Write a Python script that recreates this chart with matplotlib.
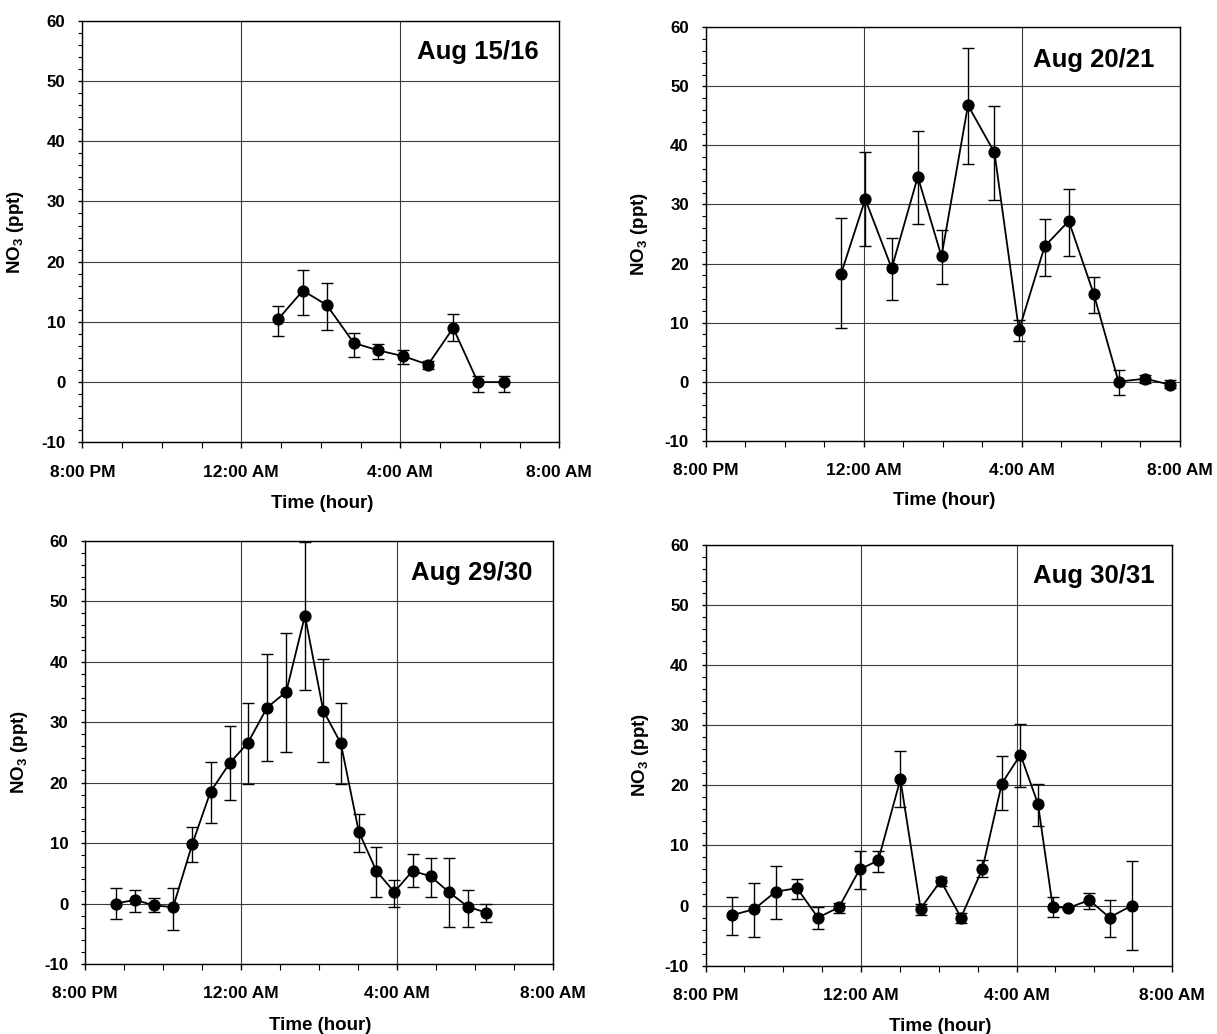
import matplotlib
matplotlib.use("Agg")
import matplotlib.pyplot as plt
from matplotlib.ticker import MultipleLocator, FixedLocator
import numpy as np

plt.rcParams['font.family'] = ['Liberation Sans', 'DejaVu Sans']
plt.rcParams['font.weight'] = 'bold'
plt.rcParams['axes.unicode_minus'] = False
plt.rcParams['mathtext.fontset'] = 'custom'
plt.rcParams['mathtext.rm'] = 'Liberation Sans:bold'
plt.rcParams['mathtext.bf'] = 'Liberation Sans:bold'
plt.rcParams['mathtext.it'] = 'Liberation Sans:bold:italic'
plt.rcParams['mathtext.default'] = 'bf'

# ---- data (time in hours, 24 = 12:00 AM) ----
titles = ["Aug 15/16", "Aug 20/21", "Aug 29/30", "Aug 30/31"]

t1 = [24.92, 25.55, 26.15, 26.83, 27.43, 28.08, 28.70, 29.33, 29.95, 30.60]
v1 = [10.4, 15.2, 12.8, 6.5, 5.3, 4.3, 2.9, 9.0, 0.0, 0.0]
hi1 = [12.7, 18.7, 16.5, 8.2, 6.4, 5.4, 3.5, 11.3, 1.0, 1.0]
lo1 = [7.6, 11.2, 8.6, 4.2, 3.9, 3.0, 2.1, 6.8, -1.6, -1.6]

t2 = [23.43, 24.04, 24.71, 25.37, 25.97, 26.64, 27.31, 27.93, 28.58, 29.19,
      29.82, 30.45, 31.12, 31.75]
v2 = [18.3, 30.9, 19.2, 34.7, 21.2, 46.8, 38.8, 8.7, 22.9, 27.2,
      14.9, 0.0, 0.5, -0.5]
hi2 = [27.7, 38.8, 24.4, 42.5, 25.7, 56.5, 46.7, 10.4, 27.6, 32.6,
       17.8, 1.9, 1.1, 0.3]
lo2 = [9.0, 23.0, 13.8, 26.7, 16.5, 36.9, 30.8, 6.8, 17.9, 21.3,
       11.6, -2.3, -0.2, -1.1]

t3 = [20.79, 21.28, 21.77, 22.26, 22.75, 23.22, 23.71, 24.18, 24.67, 25.16,
      25.64, 26.11, 26.56, 27.02, 27.47, 27.93, 28.40, 28.86, 29.33, 29.81, 30.28]
v3 = [0.0, 0.6, -0.3, -0.6, 9.8, 18.5, 23.2, 26.6, 32.4, 35.0,
      47.6, 31.9, 26.5, 11.9, 5.4, 1.9, 5.4, 4.5, 1.9, -0.5, -1.5]
hi3 = [2.5, 2.3, 0.9, 2.5, 12.7, 23.4, 29.4, 33.2, 41.3, 44.7,
       59.7, 40.4, 33.1, 14.8, 9.4, 3.9, 8.2, 7.5, 7.5, 2.3, 0.0]
lo3 = [-2.6, -1.4, -1.4, -4.3, 6.9, 13.3, 17.2, 19.8, 23.6, 25.1,
       35.3, 23.4, 19.8, 8.5, 1.0, -0.6, 2.8, 1.0, -3.9, -3.9, -3.0]

t4 = [20.68, 21.25, 21.80, 22.35, 22.89, 23.43, 23.96, 24.44, 25.01, 25.53,
      26.05, 26.57, 27.12, 27.62, 28.10, 28.55, 28.93, 29.33, 29.87, 30.39, 30.96]
v4 = [-1.6, -0.6, 2.3, 2.9, -2.0, -0.3, 6.0, 7.5, 21.0, -0.5,
      4.1, -2.0, 6.1, 20.3, 25.1, 16.9, -0.2, -0.4, 0.9, -2.0, 0.0]
hi4 = [1.4, 3.8, 6.6, 4.4, -0.2, 0.4, 9.0, 9.1, 25.7, 0.3,
       4.8, -1.3, 7.5, 24.8, 30.2, 20.3, 1.5, -0.2, 2.1, 1.0, 7.4]
lo4 = [-4.9, -5.3, -2.2, 1.1, -3.9, -1.3, 2.8, 5.5, 16.4, -1.5,
       3.3, -2.9, 4.7, 15.9, 19.8, 13.2, -1.9, -0.6, -0.6, -5.2, -7.4]

xticks = [20, 24, 28, 32]
xticklabels = ["8:00 PM", "12:00 AM", "4:00 AM", "8:00 AM"]
yticks = [-10, 0, 10, 20, 30, 40, 50, 60]

series = [(t1, v1, hi1, lo1), (t2, v2, hi2, lo2), (t3, v3, hi3, lo3), (t4, v4, hi4, lo4)]

# axes rectangles in figure fraction
rects = [
    [0.0676, 0.5722, 0.3920, 0.4077],
    [0.5798, 0.5738, 0.3896, 0.3998],
    [0.0698, 0.0677, 0.3846, 0.4094],
    [0.5798, 0.0661, 0.3833, 0.4069],
]
title_pos = [(0.83, 0.926), (0.819, 0.921), (0.826, 0.924), (0.832, 0.926)]

fig = plt.figure(figsize=(12.17, 10.34), dpi=100)
fig.patch.set_facecolor('white')

for i, (t, v, hi, lo) in enumerate(series):
    ax = fig.add_axes(rects[i])
    t = np.array(t); v = np.array(v); hi = np.array(hi); lo = np.array(lo)
    yerr = np.vstack([v - lo, hi - v])
    ax.errorbar(t, v, yerr=yerr, fmt='-o', color='black', ecolor='black',
                elinewidth=1.0, capsize=4, capthick=1.0, markersize=7.8,
                linewidth=1.3, zorder=3)
    ax.set_xlim(20, 32)
    ax.set_ylim(-10, 60)
    ax.xaxis.set_major_locator(FixedLocator(xticks))
    ax.set_xticklabels(xticklabels)
    ax.xaxis.set_minor_locator(MultipleLocator(1))
    ax.yaxis.set_major_locator(FixedLocator(yticks))
    ax.yaxis.set_minor_locator(MultipleLocator(2))
    ax.grid(True, which='major', color='#3a3a3a', linewidth=0.8)
    ax.set_axisbelow(True)
    ax.tick_params(axis='x', which='major', direction='out', length=4, width=1,
                   pad=12, labelsize=12.5)
    ax.tick_params(axis='x', which='minor', direction='out', length=4, width=0.8)
    ax.tick_params(axis='y', which='major', direction='out', length=3, width=1,
                   pad=9, labelsize=12.2)
    ax.tick_params(axis='y', which='minor', direction='out', length=3, width=0.8)
    for lab in ax.get_xticklabels() + ax.get_yticklabels():
        lab.set_fontweight('bold')
    for sp in ax.spines.values():
        sp.set_color('black')
        sp.set_linewidth(1.0)
    ax.set_xlabel("Time (hour)", fontsize=13.5, fontweight='bold')
    ax.xaxis.set_label_coords(0.503, -0.125)
    ax.set_ylabel("NO$_3$ (ppt)", fontsize=13.5, fontweight='bold')
    ax.yaxis.set_label_coords(-0.118, 0.5)
    ax.text(title_pos[i][0], title_pos[i][1], titles[i], transform=ax.transAxes,
            ha='center', va='center', fontsize=18.5, fontweight='bold', zorder=5)

fig.savefig("out.png", dpi=100, facecolor='white')
